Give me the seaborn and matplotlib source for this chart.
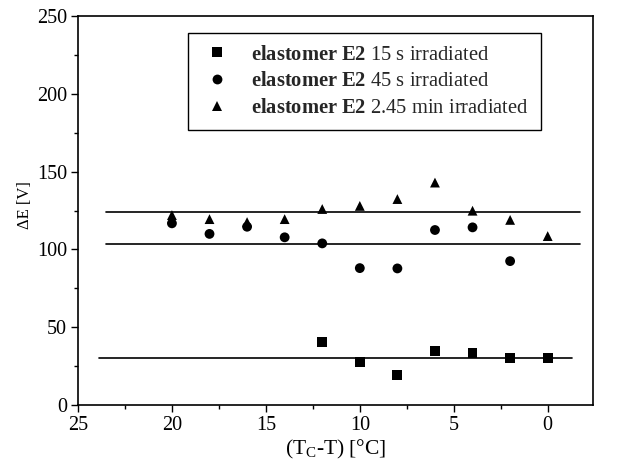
import matplotlib
matplotlib.use("Agg")
import matplotlib.pyplot as plt
import seaborn as sns
import pandas as pd

# Temperature distance from the clearing point (°C)
temp_15s = [12, 10, 8, 6, 4, 2, 0]
temp_45s = [20, 18, 16, 14, 12, 10, 8, 6, 4, 2]
temp_245min = [20, 18, 16, 14, 12, 10, 8, 6, 4, 2, 0]

# Measured ΔE (V)
dE_15s = [40.7, 27.4, 19.3, 34.7, 33.2, 30.4, 30.4]
dE_45s = [116.8, 110.0, 114.6, 107.8, 103.9, 88.0, 87.8, 112.5, 114.2, 92.5]
dE_245min = [122.1, 119.5, 117.6, 119.5, 126.0, 128.0, 132.4, 143.0, 124.9, 119.0, 108.6]

# Mean levels drawn as horizontal guide lines, with their x ranges
level_15s = 30.4
level_45s = 103.5
level_245min = 124.3
level_x_15s = [23.9, -1.3]
level_x_other = [23.5, -1.7]

labels = [
    r"$\mathbf{elastomer\ E2}$ 15 s irradiated",
    r"$\mathbf{elastomer\ E2}$ 45 s irradiated",
    r"$\mathbf{elastomer\ E2}$ 2.45 min irradiated",
]

df = pd.concat([
    pd.DataFrame({"x": temp_15s, "y": dE_15s, "series": labels[0]}),
    pd.DataFrame({"x": temp_45s, "y": dE_45s, "series": labels[1]}),
    pd.DataFrame({"x": temp_245min, "y": dE_245min, "series": labels[2]}),
])

sns.set_style("ticks")
plt.rcParams["font.family"] = ["Liberation Serif", "DejaVu Serif"]
plt.rcParams["mathtext.fontset"] = "custom"
plt.rcParams["mathtext.rm"] = "Liberation Serif"
plt.rcParams["mathtext.it"] = "Liberation Serif:italic"
plt.rcParams["mathtext.bf"] = "Liberation Serif:bold"

fig = plt.figure(figsize=(6.34, 4.61), dpi=100)
ax = fig.add_axes([0.123, 0.1215, 0.812, 0.8435])

for y, xs in [(level_15s, level_x_15s), (level_45s, level_x_other), (level_245min, level_x_other)]:
    sns.lineplot(x=xs, y=[y, y], ax=ax, color="black", linewidth=1.2, legend=False)

sns.scatterplot(
    data=df, x="x", y="y", style="series", hue="series",
    palette=["black"] * 3, markers=["s", "o", "^"], s=50,
    edgecolor="black", linewidth=0, ax=ax,
)

ax.set_xlim(25, -2.4)
ax.set_ylim(0, 250)
ax.set_xticks([25, 20, 15, 10, 5, 0])
ax.set_xticks([22.5, 17.5, 12.5, 7.5, 2.5], minor=True)
ax.set_yticks([0, 50, 100, 150, 200, 250])
ax.set_yticks([25, 75, 125, 175, 225], minor=True)
ax.tick_params(axis="both", which="major", labelsize=14.5, length=5, width=1, color="black", labelcolor="black", pad=3)
ax.tick_params(axis="both", which="minor", length=3, width=1, color="black")
for sp in ax.spines.values():
    sp.set_color("black")
    sp.set_linewidth(1.2)

ax.set_xlabel(r"(T$_\mathrm{C}$-T) [°C]", fontsize=15.5, labelpad=2, color="black")
ax.set_ylabel("ΔE [V]", fontsize=12, color="black")
ax.yaxis.set_label_coords(-0.087, 0.513)

leg = ax.legend(
    loc="upper left", bbox_to_anchor=(0.2136, 0.956), borderaxespad=0,
    fontsize=14.8, frameon=True, fancybox=False, framealpha=1,
    edgecolor="black", handletextpad=0.8, labelspacing=0.35,
    borderpad=0.58, markerscale=1.0, handlelength=1.7,
)
leg.get_frame().set_linewidth(1.0)

fig.savefig("out.png", dpi=100)
